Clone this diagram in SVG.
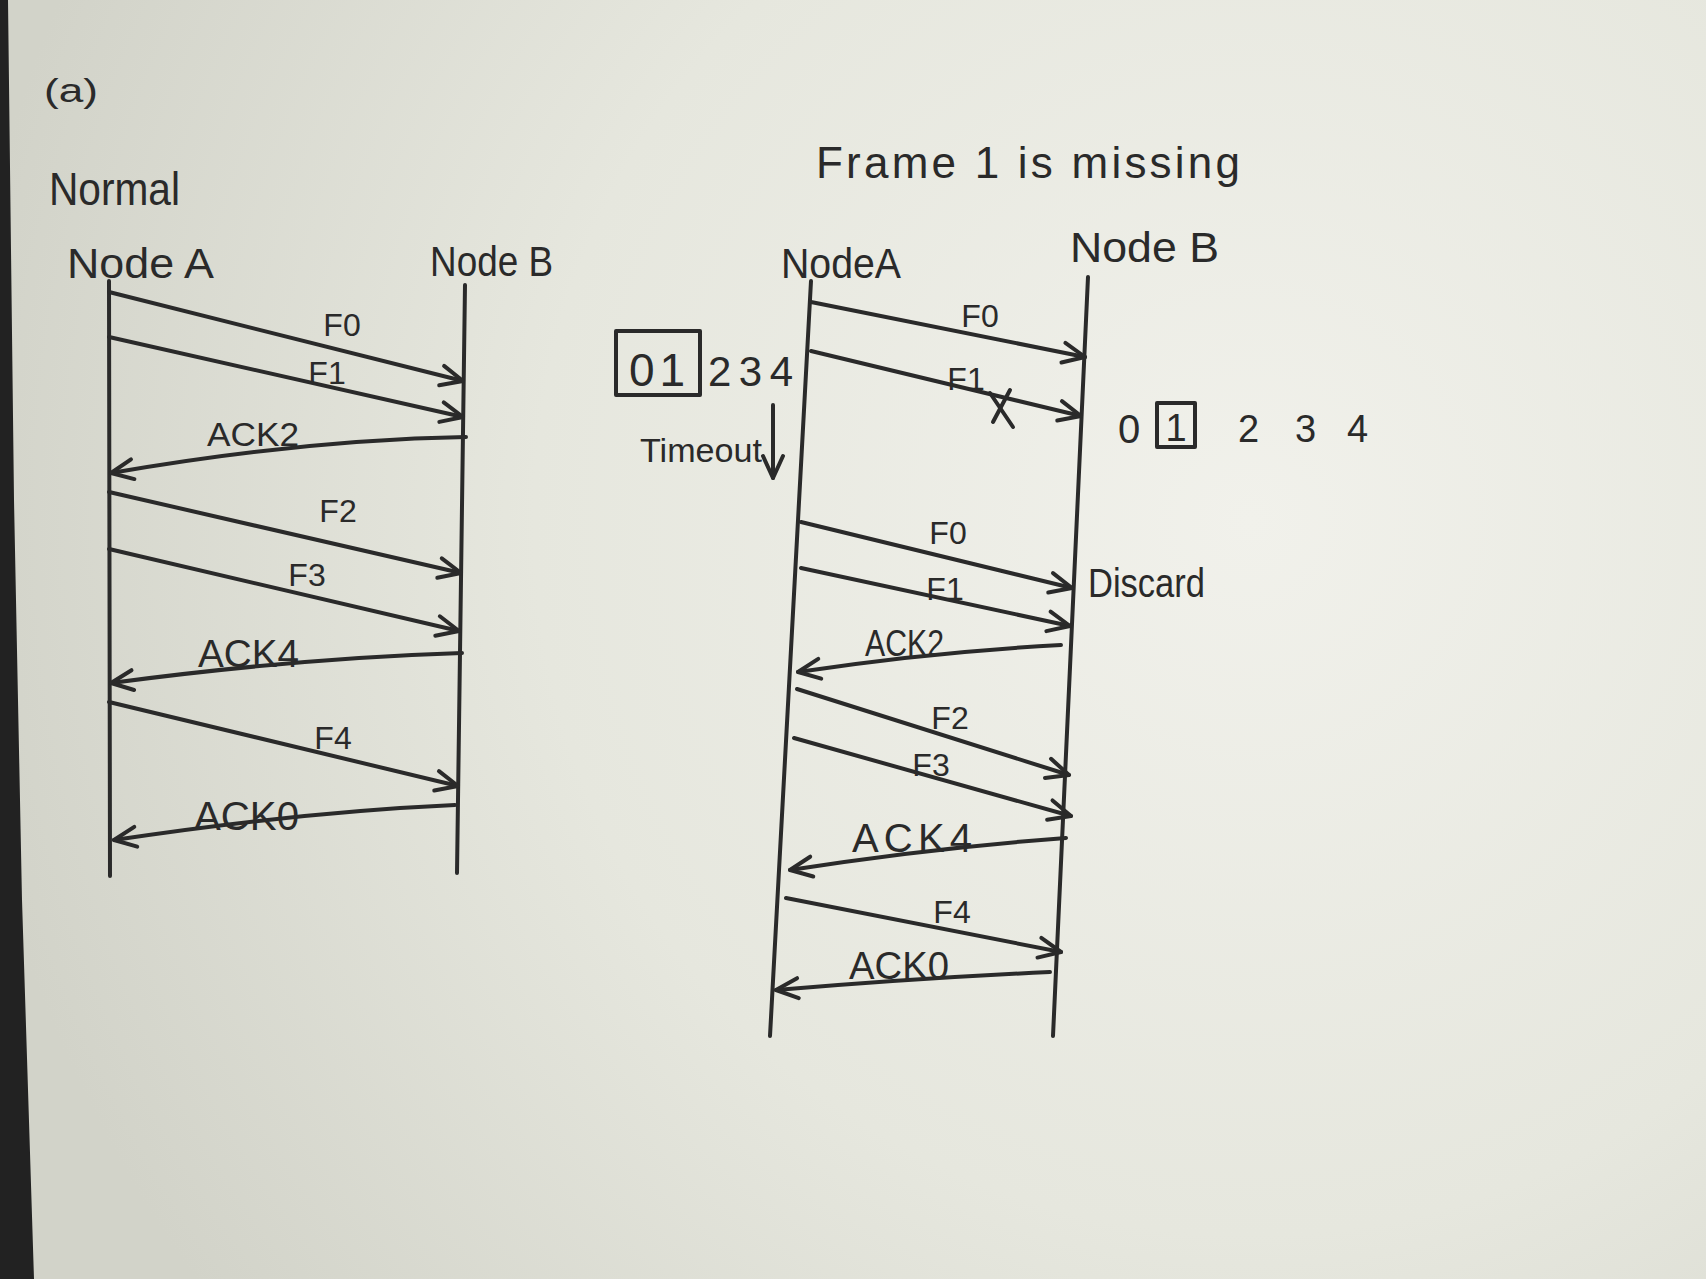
<svg xmlns="http://www.w3.org/2000/svg" width="1706" height="1279" viewBox="0 0 1706 1279">
<defs>
<radialGradient id="paper" cx="1250" cy="520" r="1300" gradientUnits="userSpaceOnUse">
<stop offset="0" stop-color="#f1f1eb"/>
<stop offset="0.55" stop-color="#e6e7de"/>
<stop offset="1" stop-color="#d2d3c9"/>
</radialGradient>
<marker id="arr" markerUnits="userSpaceOnUse" viewBox="-26 -13 30 26" markerWidth="30" markerHeight="26" refX="0" refY="0" orient="auto">
<path d="M-22,-10 L0,0 L-22,10" fill="none" stroke="#2a2a2a" stroke-width="4" stroke-linecap="round" stroke-linejoin="round"/>
</marker>
<style>
.ln{fill:none;stroke:#2a2a2a;stroke-width:4;stroke-linecap:round}
.msg{fill:none;stroke:#2a2a2a;stroke-width:4;stroke-linecap:round;marker-end:url(#arr)}
.t{font-family:"Liberation Sans","DejaVu Sans",sans-serif;fill:#2a2a2a}
.lbl{font-family:"Liberation Sans","DejaVu Sans",sans-serif;fill:#2a2a2a;font-size:32px;text-anchor:middle}
.box{fill:none;stroke:#2a2a2a;stroke-width:4;stroke-linejoin:round}
</style>
</defs>
<rect x="0" y="0" width="1706" height="1279" fill="url(#paper)"/>
<polygon points="0,0 8,0 14,500 22,900 34,1279 0,1279" fill="#222222"/>

<g id="headings">
<text class="t" x="44" y="102" font-size="34" textLength="54" lengthAdjust="spacingAndGlyphs">(a)</text>
<text class="t" x="49" y="205" font-size="46" textLength="131" lengthAdjust="spacingAndGlyphs">Normal</text>
<text class="t" x="816" y="178" font-size="44" textLength="424" lengthAdjust="spacing">Frame 1 is missing</text>
</g>

<g id="left-nodeA">
<text class="t" x="67" y="278" font-size="42" textLength="147" lengthAdjust="spacingAndGlyphs">Node A</text>
<line class="ln" x1="109" y1="281" x2="110" y2="876"/>
</g>
<g id="left-nodeB">
<text class="t" x="430" y="276" font-size="42" textLength="123" lengthAdjust="spacingAndGlyphs">Node B</text>
<line class="ln" x1="465" y1="285" x2="457" y2="873"/>
</g>

<g id="right-nodeA">
<text class="t" x="781" y="278" font-size="42" textLength="120" lengthAdjust="spacingAndGlyphs">NodeA</text>
<line class="ln" x1="811" y1="281" x2="770" y2="1036"/>
</g>
<g id="right-nodeB">
<text class="t" x="1070" y="262" font-size="42" textLength="149" lengthAdjust="spacingAndGlyphs">Node B</text>
<line class="ln" x1="1088" y1="277" x2="1053" y2="1036"/>
</g>

<g id="sender-window">
<rect class="box" x="616" y="331" width="84" height="64"/>
<text class="t" x="657" y="386" font-size="46" text-anchor="middle" textLength="56" lengthAdjust="spacing">01</text>
<text class="t" x="708" y="386" font-size="42" textLength="85" lengthAdjust="spacing">234</text>
<text class="t" x="640" y="462" font-size="34" textLength="122" lengthAdjust="spacingAndGlyphs">Timeout</text>
<line class="msg" x1="773" y1="405" x2="773" y2="478"/>
</g>

<g id="receiver-window">
<text class="t" x="1118" y="443" font-size="40">0</text>
<rect class="box" x="1157" y="403" width="38" height="44"/>
<text class="t" x="1176" y="441" font-size="38" text-anchor="middle">1</text>
<text class="t" x="1238" y="442" font-size="38">2</text>
<text class="t" x="1295" y="442" font-size="38">3</text>
<text class="t" x="1347" y="442" font-size="38">4</text>
</g>

<g id="connectors">
<!-- left: normal -->
<line class="msg" x1="109" y1="292" x2="463" y2="381"/>
<text class="lbl" x="342" y="336">F0</text>
<line class="msg" x1="109" y1="337" x2="463" y2="417"/>
<text class="lbl" x="327" y="384">F1</text>
<path class="msg" d="M466,437 Q300,440 111,473"/>
<text class="t" x="207" y="446" font-size="34" textLength="92" lengthAdjust="spacingAndGlyphs">ACK2</text>
<line class="msg" x1="109" y1="492" x2="461" y2="573"/>
<text class="lbl" x="338" y="522">F2</text>
<line class="msg" x1="109" y1="549" x2="459" y2="631"/>
<text class="lbl" x="307" y="586">F3</text>
<path class="msg" d="M462,653 Q300,658 111,683"/>
<text class="t" x="198" y="667" font-size="38" textLength="101" lengthAdjust="spacingAndGlyphs">ACK4</text>
<line class="msg" x1="109" y1="702" x2="458" y2="786"/>
<text class="lbl" x="333" y="749" font-size="42">F4</text>
<path class="msg" d="M455,805 Q300,812 114,840"/>
<text class="t" x="194" y="830" font-size="40" textLength="105" lengthAdjust="spacingAndGlyphs">ACK0</text>

<!-- right: frame 1 missing -->
<line class="msg" x1="811" y1="302" x2="1085" y2="357"/>
<text class="lbl" x="980" y="327">F0</text>
<line class="msg" x1="811" y1="351" x2="1081" y2="416"/>
<text class="lbl" x="966" y="390">F1</text>
<line class="ln" x1="990" y1="393" x2="1013" y2="427"/>
<line class="ln" x1="1010" y1="390" x2="993" y2="422"/>

<line class="msg" x1="801" y1="522" x2="1072" y2="588"/>
<text class="lbl" x="948" y="544">F0</text>
<text class="t" x="1088" y="597" font-size="40" textLength="117" lengthAdjust="spacingAndGlyphs">Discard</text>
<line class="msg" x1="801" y1="568" x2="1070" y2="626"/>
<text class="lbl" x="945" y="600">F1</text>
<path class="msg" d="M1061,645 Q930,652 798,672"/>
<text class="t" x="865" y="656" font-size="36" textLength="79" lengthAdjust="spacingAndGlyphs">ACK2</text>
<line class="msg" x1="797" y1="689" x2="1069" y2="775"/>
<text class="lbl" x="950" y="729">F2</text>
<line class="msg" x1="794" y1="738" x2="1071" y2="816"/>
<text class="lbl" x="931" y="776">F3</text>
<path class="msg" d="M1066,838 Q930,848 790,870"/>
<text class="t" x="852" y="852" font-size="40" textLength="120" lengthAdjust="spacing">ACK4</text>
<line class="msg" x1="786" y1="898" x2="1061" y2="952"/>
<text class="lbl" x="952" y="923" font-size="38">F4</text>
<path class="msg" d="M1050,972 Q920,978 776,990"/>
<text class="t" x="849" y="979" font-size="38" textLength="100" lengthAdjust="spacingAndGlyphs">ACK0</text>
</g>
</svg>
